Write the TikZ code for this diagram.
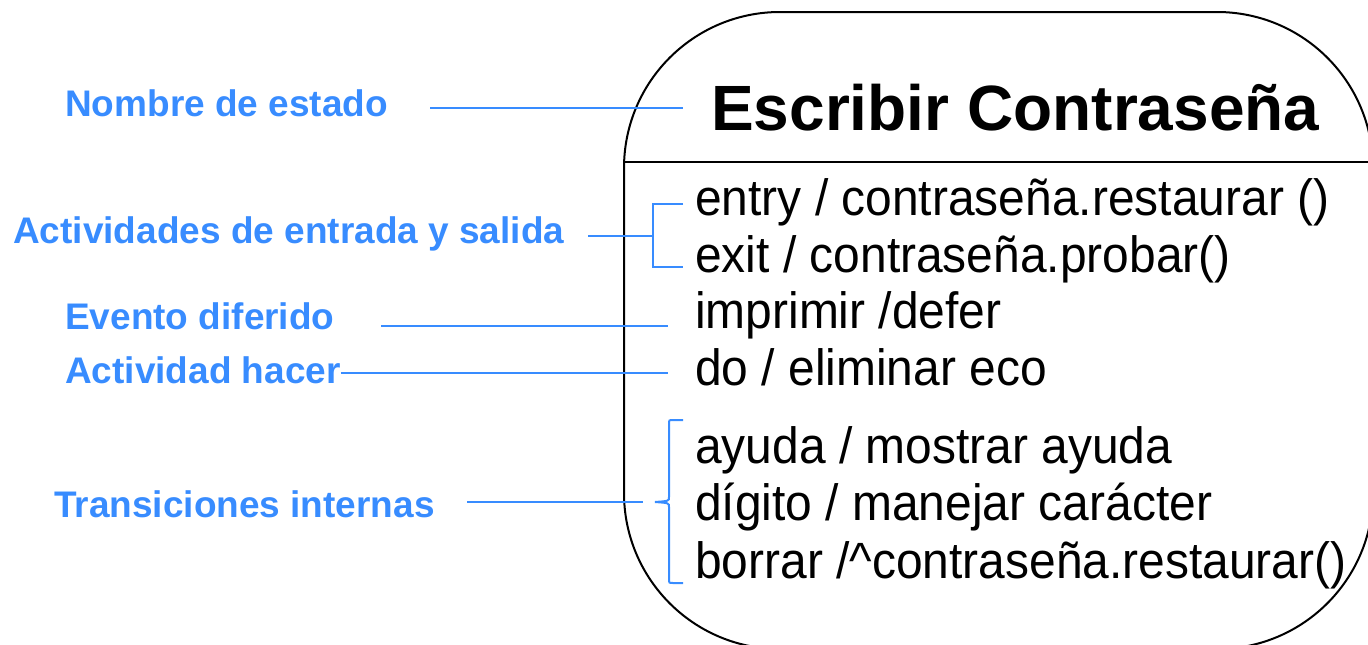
\documentclass[tikz,border=0pt]{standalone}
\usepackage{fontspec}
\setmainfont{Liberation Sans}
\newfontfamily\bodyfont[FakeStretch=0.94]{Liberation Sans}
\definecolor{lblue}{RGB}{56,140,255}
\begin{document}
\begin{tikzpicture}[x=1pt,y=-1pt,
  lbl/.style={anchor=base west,inner sep=0pt,text=lblue,font=\fontsize{37}{40}\selectfont\bfseries},
  body/.style={anchor=base west,inner sep=0pt,font=\bodyfont\fontsize{51}{60}\selectfont},
  bline/.style={draw=lblue,line width=2.4pt},
  kline/.style={draw=black,line width=2pt}]
\useasboundingbox (0,0) rectangle (1368,645);
% state
\draw[kline,rounded corners=156pt] (624,12) rectangle (1373,649);
\coordinate (sepL) at (624,162);
\coordinate (sepR) at (1373,162);
\draw[kline] (sepL) -- (sepR);
\node[anchor=base west,inner sep=0pt,font=\fontsize{64}{70}\selectfont\bfseries] (title) at (711,130) {Escribir Contraseña};
% body
\node[body] (l1) at (695,215) {entry / contraseña.restaurar ()};
\node[body] (l2) at (695,272) {exit / contraseña.probar()};
\node[body] (l3) at (695,328) {imprimir /defer};
\node[body] (l4) at (695,385) {do / eliminar eco};
\node[body] (l5) at (695,463) {ayuda / mostrar ayuda};
\node[body] (l6) at (695,520) {dígito / manejar carácter};
\node[body] (l7) at (695,578) {borrar /\string^contraseña.restaurar()};
% labels
\node[lbl] (n1) at (65,116) {Nombre de estado};
\node[lbl] (n2) at (13,243) {Actividades de entrada y salida};
\node[lbl] (n3) at (65,329) {Evento diferido};
\node[lbl] (n4) at (65,383) {Actividad hacer};
\node[lbl] (n5) at (54,517) {Transiciones internas};
% connectors
\coordinate (a1) at (430,108);
\coordinate (b1) at (683,108);
\draw[bline] (a1) -- (b1);
\coordinate (a2) at (588,236);
\coordinate (b2) at (653,236);
\coordinate (t2) at (683,204);
\coordinate (u2) at (683,267);
\draw[bline] (a2) -- (b2);
\draw[bline] (t2) -- (653,204) -- (653,267) -- (u2);
\coordinate (a3) at (381,326);
\coordinate (b3) at (668,326);
\draw[bline] (a3) -- (b3);
\coordinate (b4) at (668,373);
\draw[bline] (n4.east |- b4) -- (b4);
\coordinate (a5) at (467,502);
\coordinate (b5) at (643,502);
\draw[bline] (a5) -- (b5);
\coordinate (t5) at (683,420);
\coordinate (u5) at (683,583);
\coordinate (tip5) at (655,502);
\draw[bline,line width=2pt] (t5) -- (673,420) .. controls (669,420) .. (669,424) -- (669,497)
  .. controls (669,501) .. (tip5) .. controls (669,503) .. (669,507) -- (669,579)
  .. controls (669,583) .. (673,583) -- (u5);
\end{tikzpicture}
\end{document}
